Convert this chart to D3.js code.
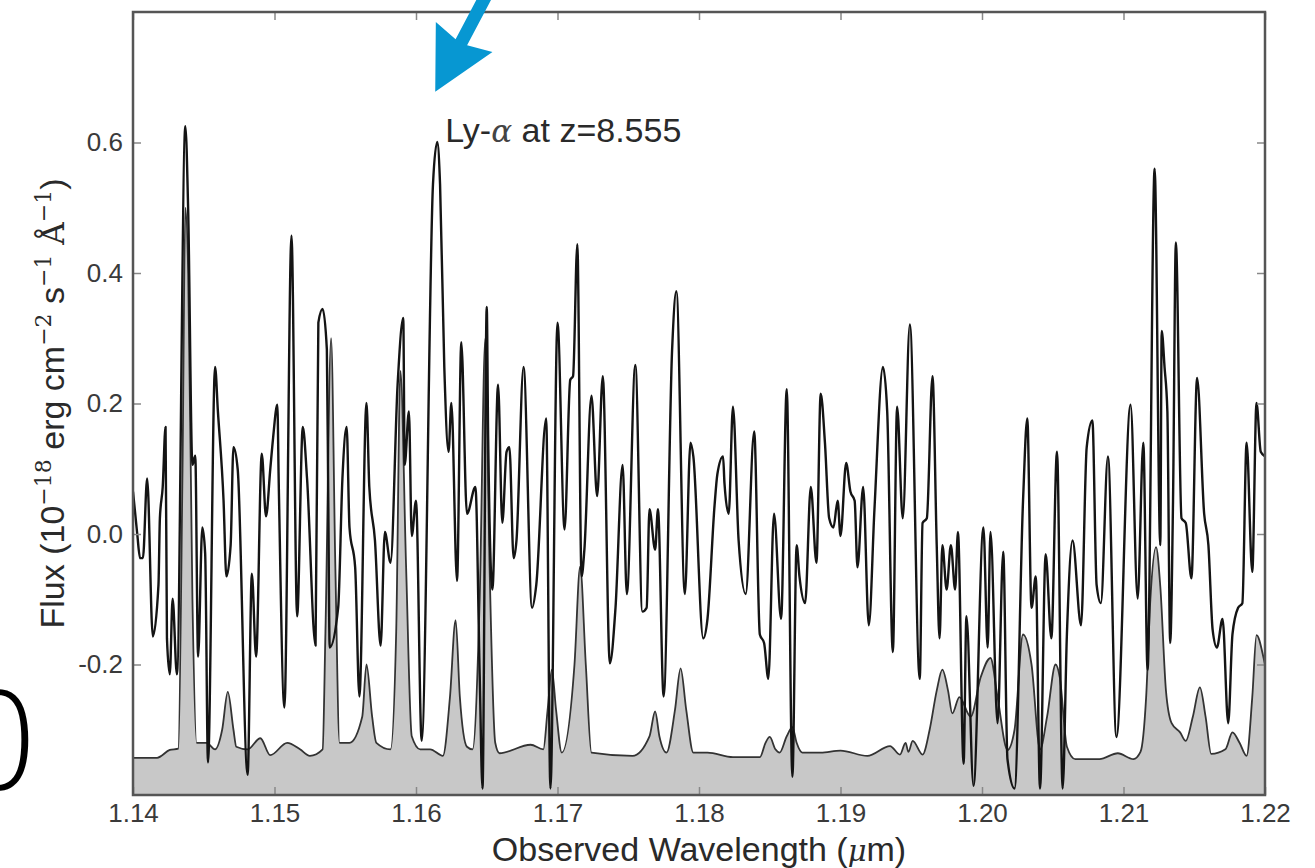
<!DOCTYPE html>
<html>
<head>
<meta charset="utf-8">
<script src="https://cdn.jsdelivr.net/npm/d3@7"></script>
<style>
  body { margin: 0; background: #fff; }
  svg { display: block; }
</style>
</head>
<body>
<div id="chart"></div>
<script>
var width = 1315,
    height = 868,
    margin = {top: 12, right: 50, bottom: 73, left: 133};

// observed spectrum (um, 1e-18 erg/cm2/s/A)
var specWl = [
  1.1400,1.1403,1.1405,1.1407,1.1410,1.1414,1.1418,1.1419,1.1421,1.1423,
  1.1424,1.1426,1.1428,1.1431,1.1437,1.1439,1.1442,1.1444,1.1446,1.1449,
  1.1451,1.1453,1.1458,1.1460,1.1464,1.1466,1.1469,1.1471,1.1474,1.1481,
  1.1484,1.1487,1.1491,1.1494,1.1497,1.1499,1.1502,1.1503,1.1507,1.1512,
  1.1516,1.1520,1.1523,1.1529,1.1531,1.1534,1.1537,1.1538,1.1539,1.1545,
  1.1548,1.1551,1.1553,1.1557,1.1560,1.1565,1.1567,1.1571,1.1575,1.1578,
  1.1582,1.1587,1.1591,1.1592,1.1595,1.1597,1.1600,1.1604,1.1612,1.1615,
  1.1617,1.1620,1.1623,1.1625,1.1629,1.1632,1.1636,1.1642,1.1645,1.1647,
  1.1650,1.1651,1.1654,1.1658,1.1661,1.1664,1.1666,1.1669,1.1671,1.1676,
  1.1682,1.1685,1.1692,1.1695,1.1700,1.1705,1.1709,1.1711,1.1714,1.1717,
  1.1719,1.1724,1.1728,1.1732,1.1737,1.1741,1.1746,1.1749,1.1755,1.1760,
  1.1763,1.1765,1.1769,1.1771,1.1775,1.1781,1.1784,1.1790,1.1794,1.1796,
  1.1803,1.1806,1.1811,1.1813,1.1817,1.1818,1.1821,1.1824,1.1828,1.1833,
  1.1839,1.1843,1.1846,1.1849,1.1853,1.1858,1.1862,1.1866,1.1869,1.1871,
  1.1875,1.1879,1.1883,1.1886,1.1889,1.1892,1.1895,1.1898,1.1900,1.1904,
  1.1907,1.1910,1.1912,1.1916,1.1920,1.1924,1.1930,1.1933,1.1937,1.1940,
  1.1944,1.1949,1.1956,1.1958,1.1961,1.1965,1.1968,1.1970,1.1972,1.1975,
  1.1978,1.1981,1.1983,1.1987,1.1989,1.1994,1.2001,1.2004,1.2006,1.2011,
  1.2015,1.2018,1.2023,1.2029,1.2032,1.2035,1.2038,1.2041,1.2045,1.2049,
  1.2053,1.2057,1.2060,1.2064,1.2070,1.2074,1.2078,1.2081,1.2084,1.2089,
  1.2095,1.2105,1.2110,1.2114,1.2117,1.2122,1.2126,1.2127,1.2129,1.2131,
  1.2133,1.2135,1.2137,1.2141,1.2144,1.2148,1.2152,1.2157,1.2160,1.2163,
  1.2166,1.2170,1.2174,1.2177,1.2181,1.2184,1.2187,1.2191,1.2194,1.2197,
  1.2200
];
var specFlux = [
  0.065,0.0,-0.037,-0.037,0.085,-0.157,-0.078,0.024,0.072,0.164,
  -0.16,-0.215,-0.099,-0.215,0.625,0.495,0.106,0.12,-0.188,0.01,
  -0.03,-0.35,0.256,0.188,0.051,-0.065,-0.017,0.133,0.099,-0.369,
  -0.061,-0.188,0.123,0.027,0.099,0.147,0.198,0.078,-0.266,0.457,
  -0.126,0.164,0.085,-0.171,0.324,0.345,0.283,0.051,-0.174,-0.113,
  0.085,0.164,0.01,-0.051,-0.249,0.201,0.072,-0.01,-0.171,0.003,
  -0.044,0.229,0.331,0.106,0.188,-0.003,0.051,-0.317,0.536,0.601,
  0.536,0.256,0.126,0.201,-0.072,0.294,0.031,0.072,-0.215,-0.39,
  0.348,0.147,-0.085,0.229,0.017,0.126,0.133,-0.037,-0.01,0.256,
  -0.113,-0.078,0.177,-0.39,0.324,0.007,0.236,0.242,0.444,-0.065,
  -0.024,0.212,0.058,0.242,-0.198,-0.113,0.106,-0.092,0.259,-0.119,
  -0.113,0.038,-0.024,0.038,-0.249,0.283,0.372,-0.092,0.14,0.119,
  -0.16,-0.13,0.044,0.092,0.119,0.078,0.031,0.195,-0.01,-0.092,
  0.157,-0.154,-0.167,-0.222,0.031,-0.13,0.222,-0.372,-0.017,-0.065,
  -0.106,0.072,-0.044,0.215,0.14,0.024,0.01,0.051,-0.003,0.109,
  0.065,0.051,-0.051,0.072,-0.14,0.038,0.256,0.188,-0.181,0.195,
  0.024,0.321,-0.222,0.017,0.024,0.242,-0.017,-0.16,-0.017,-0.085,
  -0.017,-0.085,0.003,-0.352,-0.126,-0.386,0.01,-0.174,0.003,-0.29,
  -0.027,-0.345,-0.39,0.051,0.177,-0.113,-0.065,-0.39,-0.031,-0.16,
  0.126,-0.39,-0.154,-0.01,-0.14,0.133,0.174,-0.078,-0.106,0.119,
  -0.311,0.198,-0.099,0.14,-0.208,0.56,-0.017,0.311,0.256,0.188,
  -0.167,0.051,0.447,0.024,0.017,-0.068,0.239,0.031,-0.017,-0.147,
  -0.174,-0.13,-0.29,-0.154,-0.113,-0.106,0.14,-0.058,0.201,0.126,
  0.119
];

// sky spectrum, shaded
var skyWl = [
  1.1400,1.1417,1.1426,1.1432,1.1435,1.1437,1.1439,1.1442,1.1445,1.1452,
  1.1458,1.1463,1.1467,1.1471,1.1473,1.1481,1.1490,1.1497,1.1509,1.1518,
  1.1525,1.1534,1.1536,1.1540,1.1543,1.1546,1.1553,1.1562,1.1565,1.1569,
  1.1572,1.1582,1.1586,1.1589,1.1593,1.1597,1.1603,1.1610,1.1619,1.1624,
  1.1628,1.1631,1.1636,1.1640,1.1645,1.1649,1.1652,1.1656,1.1659,1.1681,
  1.1690,1.1693,1.1696,1.1699,1.1703,1.1712,1.1716,1.1720,1.1724,1.1753,
  1.1765,1.1769,1.1772,1.1777,1.1783,1.1787,1.1791,1.1796,1.1806,1.1824,
  1.1843,1.1847,1.1850,1.1854,1.1857,1.1862,1.1866,1.1869,1.1873,1.1886,
  1.1900,1.1919,1.1935,1.1942,1.1946,1.1948,1.1951,1.1958,1.1963,1.1968,
  1.1972,1.1976,1.1979,1.1984,1.1992,1.1999,1.2006,1.2011,1.2018,1.2023,
  1.2029,1.2035,1.2041,1.2046,1.2052,1.2055,1.2060,1.2066,1.2083,1.2096,
  1.2107,1.2112,1.2116,1.2119,1.2123,1.2126,1.2130,1.2134,1.2140,1.2144,
  1.2149,1.2154,1.2158,1.2162,1.2172,1.2177,1.2182,1.2187,1.2191,1.2194,
  1.2199,1.2200
];
var skyFlux = [
  -0.343,-0.343,-0.331,-0.329,0.1,0.5,0.4,-0.1,-0.32,-0.32,
  -0.33,-0.3,-0.242,-0.3,-0.326,-0.33,-0.313,-0.339,-0.32,-0.33,
  -0.34,-0.33,-0.15,0.3,-0.05,-0.32,-0.32,-0.28,-0.2,-0.28,
  -0.32,-0.33,-0.15,0.25,-0.05,-0.31,-0.33,-0.33,-0.34,-0.25,
  -0.132,-0.25,-0.326,-0.33,-0.1,0.3,-0.05,-0.32,-0.336,-0.323,
  -0.33,-0.27,-0.208,-0.27,-0.335,-0.2,-0.05,-0.2,-0.335,-0.34,
  -0.31,-0.272,-0.31,-0.335,-0.27,-0.206,-0.27,-0.335,-0.335,-0.342,
  -0.342,-0.32,-0.311,-0.33,-0.335,-0.31,-0.296,-0.32,-0.335,-0.335,
  -0.332,-0.34,-0.325,-0.338,-0.32,-0.334,-0.317,-0.338,-0.3,-0.24,
  -0.208,-0.24,-0.275,-0.25,-0.28,-0.22,-0.19,-0.25,-0.331,-0.3,
  -0.154,-0.2,-0.33,-0.28,-0.2,-0.22,-0.326,-0.345,-0.345,-0.336,
  -0.345,-0.334,-0.25,-0.1,-0.02,-0.08,-0.24,-0.29,-0.304,-0.317,
  -0.28,-0.235,-0.28,-0.337,-0.33,-0.304,-0.32,-0.34,-0.25,-0.155,
  -0.19,-0.2
];

var xTicks = [1.14, 1.15, 1.16, 1.17, 1.18, 1.19, 1.20, 1.21, 1.22];
var yTicks = [-0.2, 0.0, 0.2, 0.4, 0.6];

var svg = d3.select("#chart").append("svg")
    .attr("width", width)
    .attr("height", height);

var x = d3.scaleLinear().domain([1.14, 1.22]).range([margin.left, width - margin.right]);
var y = d3.scaleLinear().domain([-0.4, 0.8]).range([height - margin.bottom, margin.top]);

svg.append("defs").append("clipPath").attr("id", "plot")
  .append("rect")
    .attr("x", x(1.14)).attr("y", y(0.8))
    .attr("width", x(1.22) - x(1.14)).attr("height", y(-0.4) - y(0.8));

var sky = skyWl.map(function(d, i) { return [d, skyFlux[i]]; });
var spec = specWl.map(function(d, i) { return [d, specFlux[i]]; });

var g = svg.append("g").attr("clip-path", "url(#plot)");

g.append("path")
    .datum(sky)
    .attr("fill", "#c8c8c8")
    .attr("d", d3.area()
      .x(function(d) { return x(d[0]); })
      .y0(y(-0.4))
      .y1(function(d) { return y(d[1]); })
      .curve(d3.curveMonotoneX));

g.append("path")
    .datum(sky)
    .attr("fill", "none")
    .attr("stroke", "#333")
    .attr("stroke-width", 1.8)
    .attr("d", d3.line()
      .x(function(d) { return x(d[0]); })
      .y(function(d) { return y(d[1]); })
      .curve(d3.curveMonotoneX));

g.append("path")
    .datum(spec)
    .attr("fill", "none")
    .attr("stroke", "#141414")
    .attr("stroke-width", 2.4)
    .attr("stroke-linejoin", "round")
    .attr("d", d3.line()
      .x(function(d) { return x(d[0]); })
      .y(function(d) { return y(d[1]); })
      .curve(d3.curveMonotoneX));

// axes, ticks pointing inward on all four sides
function styleAxis(sel) {
  sel.select(".domain").remove();
  sel.selectAll(".tick line").attr("stroke", "#888").attr("stroke-width", 1.5);
  sel.selectAll(".tick text")
    .attr("fill", "#3a3a3a")
    .style("font-family", "'Liberation Sans', Arial, sans-serif")
    .style("font-size", "26px");
}

svg.append("g")
    .attr("transform", "translate(0," + y(-0.4) + ")")
    .call(d3.axisBottom(x).tickValues(xTicks).tickSize(-8).tickPadding(9)
      .tickFormat(d3.format(".2f")))
    .call(styleAxis);
svg.append("g")
    .attr("transform", "translate(0," + y(0.8) + ")")
    .call(d3.axisTop(x).tickValues(xTicks).tickSize(-8).tickFormat(""))
    .call(styleAxis);
svg.append("g")
    .attr("transform", "translate(" + x(1.14) + ",0)")
    .call(d3.axisLeft(y).tickValues(yTicks).tickSize(-8).tickPadding(10)
      .tickFormat(function(d) { return d.toFixed(1); }))
    .call(styleAxis);
svg.append("g")
    .attr("transform", "translate(" + x(1.22) + ",0)")
    .call(d3.axisRight(y).tickValues(yTicks).tickSize(-8).tickFormat(""))
    .call(styleAxis);

svg.append("rect")
    .attr("x", x(1.14)).attr("y", y(0.8))
    .attr("width", x(1.22) - x(1.14)).attr("height", y(-0.4) - y(0.8))
    .attr("fill", "none")
    .attr("stroke", "#555")
    .attr("stroke-width", 2.5);

var sans = "'Liberation Sans', Arial, sans-serif",
    serif = "'DejaVu Serif', 'Liberation Serif', serif";

// x title
var xt = svg.append("text")
    .attr("x", (x(1.14) + x(1.22)) / 2)
    .attr("y", 861)
    .attr("text-anchor", "middle")
    .attr("fill", "#2a2a2a")
    .style("font-family", sans)
    .style("font-size", "34px");
xt.append("tspan").text("Observed Wavelength (");
xt.append("tspan").style("font-family", serif).style("font-style", "italic").style("font-size", "29px").text("μ");
xt.append("tspan").text("m)");

// y title
var yt = svg.append("text")
    .attr("transform", "translate(64," + (y(-0.4) + y(0.8)) / 2 + ")rotate(-90)")
    .attr("text-anchor", "middle")
    .attr("fill", "#2a2a2a")
    .style("font-family", sans)
    .style("font-size", "34px");
yt.append("tspan").text("Flux (10");
yt.append("tspan").attr("dy", -13).style("font-size", "22px").style("font-family", serif).text("−18");
yt.append("tspan").attr("dy", 13).text(" erg cm");
yt.append("tspan").attr("dy", -13).style("font-size", "22px").style("font-family", serif).text("−2");
yt.append("tspan").attr("dy", 13).text(" s");
yt.append("tspan").attr("dy", -13).style("font-size", "22px").style("font-family", serif).text("−1");
yt.append("tspan").attr("dy", 13).style("font-family", serif).style("font-size", "31px").text(" Å");
yt.append("tspan").attr("dy", -13).style("font-size", "22px").style("font-family", serif).text("−1");
yt.append("tspan").attr("dy", 13).text(")");

// Ly-alpha annotation
var lyWl = 1.1615, lyFlux = 0.601;
var ann = svg.append("text")
    .attr("x", x(lyWl) + 8)
    .attr("y", y(lyFlux))
    .attr("fill", "#2a2a2a")
    .style("font-family", sans)
    .style("font-size", "34px");
ann.append("tspan").text("Ly-");
ann.append("tspan").style("font-family", serif).style("font-style", "italic").style("font-size", "31px").attr("fill", "#444").text("α");
ann.append("tspan").text(" at z=8.555");

// blue arrow pointing at the line
var tipX = x(lyWl) - 2, tipY = y(lyFlux) - 50;
svg.append("path")
    .attr("transform", "translate(" + tipX + "," + tipY + ")rotate(27.8)")
    .attr("d", "M0,0L-32,-62L-6.5,-56L-6.5,-160L6.5,-160L6.5,-56L32,-62Z")
    .attr("fill", "#0797d2");

// cut-off slide text at the left edge
svg.append("text")
    .attr("x", -3)
    .attr("y", 790)
    .attr("text-anchor", "middle")
    .attr("fill", "#000")
    .style("font-family", "'Open Sans', sans-serif")
    .style("font-weight", 300)
    .style("font-size", "138px")
    .text("0");
</script>
</body>
</html>
